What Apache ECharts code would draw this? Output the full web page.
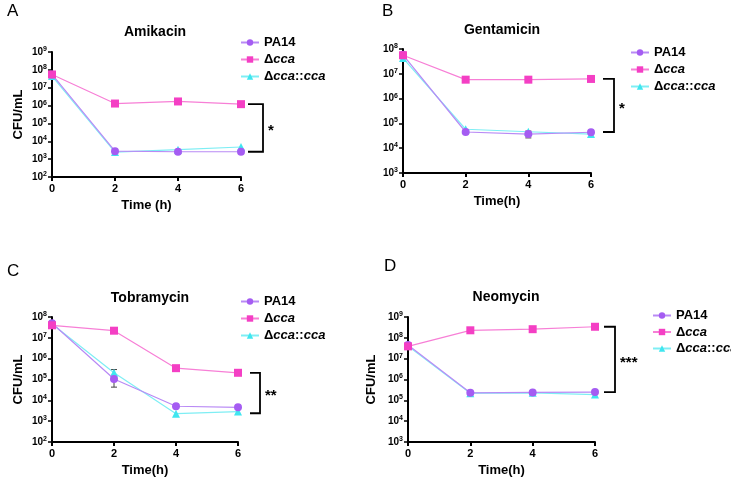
<!DOCTYPE html>
<html><head><meta charset="utf-8">
<script src="https://cdn.jsdelivr.net/npm/echarts@6/dist/echarts.min.js"></script>
<style>html,body{margin:0;padding:0;background:#fff}#c{width:731px;height:478px}</style>
</head><body><div id="c"></div>
<script>
// ---- data ----
const times = [0, 2, 4, 6];
const seriesNames = ['PA14', 'Δcca', 'Δcca::cca'];
const titles = ['Amikacin', 'Gentamicin', 'Tobramycin', 'Neomycin'];
const panelLetters = ['A', 'B', 'C', 'D'];
const xNames = ['Time (h)', 'Time(h)', 'Time(h)', 'Time(h)'];
const yNames = ['CFU/mL', '', 'CFU/mL', 'CFU/mL'];
const sigLabels = ['*', '*', '**', '***'];
const yMins = [1e2, 1e3, 1e2, 1e3];
const yMaxs = [1e9, 1e8, 1e8, 1e9];

const amiPA14 = [5.5e7, 2.8e3, 2.6e3, 2.6e3];
const amiCca  = [5.5e7, 1.3e6, 1.7e6, 1.2e6];
const amiComp = [4.5e7, 2.5e3, 3.4e3, 4.8e3];
const genPA14 = [5.8e7, 4.5e4, 3.7e4, 4.4e4];
const genCca  = [5.6e7, 5.8e6, 5.8e6, 6.2e6];
const genComp = [4.3e7, 5.8e4, 4.6e4, 3.7e4];
const tobPA14 = [5.0e7, 1.05e5, 5.2e3, 4.6e3];
const tobCca  = [4.0e7, 2.2e7, 3.5e5, 2.1e5];
const tobComp = [4.6e7, 2.1e5, 2.3e3, 2.9e3];
const neoPA14 = [4.5e7, 2.3e5, 2.4e5, 2.5e5];
const neoCca  = [3.9e7, 2.3e8, 2.6e8, 3.4e8];
const neoComp = [4.0e7, 2.2e5, 2.3e5, 1.9e5];

// error bars: [time, low, high]
const amiErr = [[2, 1.8e3, 3.3e3], [4, 1.3e6, 2.3e6], [6, 8.7e5, 1.4e6]];
const genErr = [[4, 2.6e4, 4.9e4], [6, 5.3e6, 7.0e6]];
const tobErr = [[2, 4.3e4, 1.5e5], [2, 1.5e5, 3.0e5]];
const neoErr = [[4, 2.0e5, 2.8e5]];

// significance brackets: [time, upper, lower]
const amiSig = [6, 1.2e6, 2.6e3];
const genSig = [6, 6.2e6, 4.5e4];
const tobSig = [6, 2.1e5, 2.4e3];
const neoSig = [6, 3.4e8, 2.5e5];

const panelData = [
  [amiPA14, amiCca, amiComp, amiErr, amiSig],
  [genPA14, genCca, genComp, genErr, genSig],
  [tobPA14, tobCca, tobComp, tobErr, tobSig],
  [neoPA14, neoCca, neoComp, neoErr, neoSig]
];

// ---- layout / style ----
const grids = [
  {left: 52, top: 52, width: 189, height: 125},
  {left: 403, top: 49, width: 188, height: 124},
  {left: 52, top: 317, width: 186, height: 125},
  {left: 408, top: 317, width: 187, height: 125}
];
const legendPos = [
  {left: 240, top: 36, itemGap: 4},
  {left: 630, top: 46, itemGap: 4},
  {left: 240, top: 295, itemGap: 4},
  {left: 652, top: 309, itemGap: 3.5}
];
const titlePos = [[150, 20], [497, 18], [145, 286], [501, 285]];
const letterPos = [[2, -2], [377, -2], [2, 258], [379, 253]];
const yNameGaps = [27, 27, 27, 30];
const bracketOffsets = [[7, 22], [12, 23], [12, 22], [9, 20]];
const colors = ['#a55cf2', '#f43fc4', '#3fe6ef'];
const lineColors = ['#b98af5', '#f77fd6', '#7eeef4'];
const symbols = ['circle', 'rect', 'triangle'];
const FONT = 'Liberation Sans, Arial, sans-serif';

function legendFmt(name) {
  if (name === 'PA14') return '{b|PA14}';
  if (name === 'Δcca') return '{b|Δ}{bi|cca}';
  return '{b|Δ}{bi|cca}{b|::}{bi|cca}';
}
function supFmt(v) {
  const e = Math.round(Math.log10(v));
  return '{a|10}{s|' + e + '}';
}

const option = {
  backgroundColor: '#fff',
  animation: false,
  title: [],
  grid: grids,
  legend: [],
  xAxis: [],
  yAxis: [],
  series: []
};

for (let p = 0; p < 4; p++) {
  option.title.push({
    text: titles[p], left: titlePos[p][0], top: titlePos[p][1], textAlign: 'center',
    textStyle: {fontFamily: FONT, fontWeight: 'bold', fontSize: 14, color: '#000'}
  });
  option.title.push({
    text: panelLetters[p], left: letterPos[p][0], top: letterPos[p][1],
    textStyle: {fontFamily: FONT, fontWeight: 'normal', fontSize: 17, color: '#000'}
  });
  option.legend.push({
    orient: 'vertical', left: legendPos[p].left, top: legendPos[p].top, padding: 0,
    itemGap: legendPos[p].itemGap, itemWidth: 18, itemHeight: 8,
    data: seriesNames, formatter: legendFmt, selectedMode: false,
    textStyle: {
      lineHeight: 13,
      rich: {
        b: {fontFamily: FONT, fontWeight: 'bold', fontSize: 13, color: '#000'},
        bi: {fontFamily: FONT, fontWeight: 'bold', fontStyle: 'italic', fontSize: 13, color: '#000'}
      }
    }
  });
  option.xAxis.push({
    type: 'value', gridIndex: p, min: 0, max: 6, interval: 2,
    name: xNames[p], nameLocation: 'middle', nameGap: 22,
    nameTextStyle: {fontFamily: FONT, fontWeight: 'bold', fontSize: 13, color: '#000'},
    axisLine: {lineStyle: {color: '#000', width: 2}},
    axisTick: {show: true, length: 4, lineStyle: {color: '#000', width: 2}},
    axisLabel: {fontFamily: FONT, fontWeight: 'bold', fontSize: 11, color: '#000', margin: 6},
    splitLine: {show: false}
  });
  option.yAxis.push({
    type: 'log', logBase: 10, gridIndex: p, min: yMins[p], max: yMaxs[p], interval: 1,
    name: yNames[p], nameLocation: 'middle', nameGap: yNameGaps[p], nameRotate: 90,
    nameTextStyle: {fontFamily: FONT, fontWeight: 'bold', fontSize: 13, color: '#000'},
    axisLine: {show: true, onZero: false, lineStyle: {color: '#000', width: 2}},
    axisTick: {show: true, length: 4, lineStyle: {color: '#000', width: 1.5}},
    axisLabel: {
      formatter: supFmt, margin: 5,
      rich: {
        a: {fontFamily: FONT, fontWeight: 'bold', fontSize: 10, color: '#000'},
        s: {fontFamily: FONT, fontWeight: 'bold', fontSize: 7, color: '#000', padding: [0, 0, 6, 0]}
      }
    },
    splitLine: {show: false}
  });
  const d = panelData[p];
  // error bars
  option.series.push({
    type: 'custom', xAxisIndex: p, yAxisIndex: p, z: 1, silent: true,
    data: d[3],
    renderItem: function (params, api) {
      const hi = api.coord([api.value(0), api.value(2)]);
      const lo = api.coord([api.value(0), api.value(1)]);
      const st = {stroke: '#444', lineWidth: 1, fill: null};
      return {type: 'group', children: [
        {type: 'line', shape: {x1: hi[0], y1: hi[1], x2: lo[0], y2: lo[1]}, style: st},
        {type: 'line', shape: {x1: hi[0] - 3, y1: hi[1], x2: hi[0] + 3, y2: hi[1]}, style: st},
        {type: 'line', shape: {x1: lo[0] - 3, y1: lo[1], x2: lo[0] + 3, y2: lo[1]}, style: st}
      ]};
    }
  });
  // lines (draw order: complement, PA14, Δcca)
  const order = [2, 0, 1];
  order.forEach(function (k, idx) {
    option.series.push({
      name: seriesNames[k], type: 'line', xAxisIndex: p, yAxisIndex: p,
      data: times.map(function (t, i) { return [t, d[k][i]]; }),
      symbol: symbols[k], symbolSize: 8,
      z: 2 + idx,
      lineStyle: {color: lineColors[k], width: 1.2},
      itemStyle: {color: colors[k]},
      emphasis: {disabled: true}
    });
  });
  // significance bracket
  const off = bracketOffsets[p];
  const lbl = sigLabels[p];
  option.series.push({
    type: 'custom', xAxisIndex: p, yAxisIndex: p, z: 5, silent: true, clip: false,
    data: [d[4]],
    renderItem: function (params, api) {
      const top = api.coord([api.value(0), api.value(1)]);
      const bot = api.coord([api.value(0), api.value(2)]);
      const x1 = top[0] + off[0], x2 = top[0] + off[1];
      return {type: 'group', children: [
        {type: 'polyline', shape: {points: [[x1, top[1]], [x2, top[1]], [x2, bot[1]], [x1, bot[1]]]},
         style: {stroke: '#000', lineWidth: 1.8, fill: null}},
        {type: 'text', x: x2 + 5, y: (top[1] + bot[1]) / 2 + 3,
         style: {text: lbl, fontFamily: FONT, fontWeight: 'bold', fontSize: 15, fill: '#000',
                 align: 'left', verticalAlign: 'middle'}}
      ]};
    }
  });
}

const chart = echarts.init(document.getElementById('c'), null, {renderer: 'canvas'});
chart.setOption(option);
</script>
</body></html>
